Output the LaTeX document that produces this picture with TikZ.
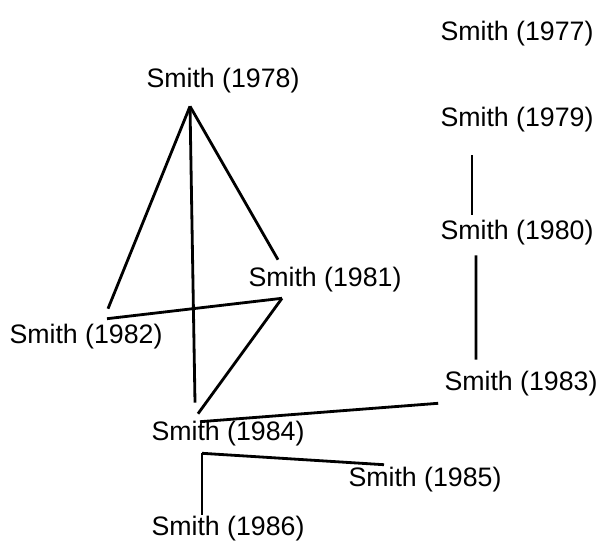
\documentclass[tikz,border=0pt]{standalone}
\usepackage{fontspec}
\setmainfont{Liberation Sans}
\usepackage{tikz}
\usetikzlibrary{calc}

\begin{document}
\begin{tikzpicture}[every node/.style={font=\fontsize{15.2}{18}\selectfont,inner sep=0pt},
    link/.style={line width=1.6pt}]
  \useasboundingbox (0,0) rectangle (12.04,10.82);
  \node (s77) at (10.34,10.14) {Smith (1977)};
  \node (s78) at (4.46,9.20) {Smith (1978)};
  \node (s79) at (10.34,8.42) {Smith (1979)};
  \node (s80) at (10.34,6.16) {Smith (1980)};
  \node (s81) at (6.50,5.22) {Smith (1981)};
  \node (s82) at (1.72,4.08) {Smith (1982)};
  \node (s83) at (10.42,3.14) {Smith (1983)};
  \node (s84) at (4.56,2.14) {Smith (1984)};
  \node (s85) at (8.50,1.22) {Smith (1985)};
  \node (s86) at (4.56,0.24) {Smith (1986)};
  % apex under Smith (1978)
  \coordinate (top) at ([xshift=-0.66cm,yshift=-0.25cm]s78.south);
  \draw[link] (top) -- ([xshift=0.44cm,yshift=0.31cm]s82.north);
  \draw[link] (top) -- ([xshift=-0.66cm,yshift=0.37cm]s84.north);
  \draw[link] (top) -- ([xshift=-0.94cm,yshift=0.15cm]s81.north);
  \draw[link] ([xshift=0.42cm,yshift=0.11cm]s82.north) -- ([xshift=-0.86cm,yshift=-0.11cm]s81.south);
  \draw[link] ([xshift=-0.86cm,yshift=-0.11cm]s81.south) -- ([xshift=-0.6cm,yshift=0.15cm]s84.north);
  \draw[link] ([xshift=-0.56cm,yshift=-0.01cm]s84.north) -- ([xshift=-0.12cm,yshift=-0.13cm]s83.south west);
  % right column
  \draw[link] ([xshift=-0.9cm,yshift=-0.45cm]s79.south) -- ([xshift=-0.9cm,yshift=0.11cm]s80.north);
  \draw[link] ([xshift=-0.82cm,yshift=-0.19cm]s80.south) -- ([xshift=-0.9cm,yshift=0.23cm]s83.north);
  % below Smith (1984)
  \coordinate (fork) at ([xshift=-0.52cm,yshift=-0.13cm]s84.south);
  \draw[link] (fork) -- ([xshift=-0.82cm,yshift=0.05cm]s85.north);
  \draw[link] (fork) -- ([xshift=-0.52cm,yshift=0.03cm]s86.north);
\end{tikzpicture}
\end{document}
